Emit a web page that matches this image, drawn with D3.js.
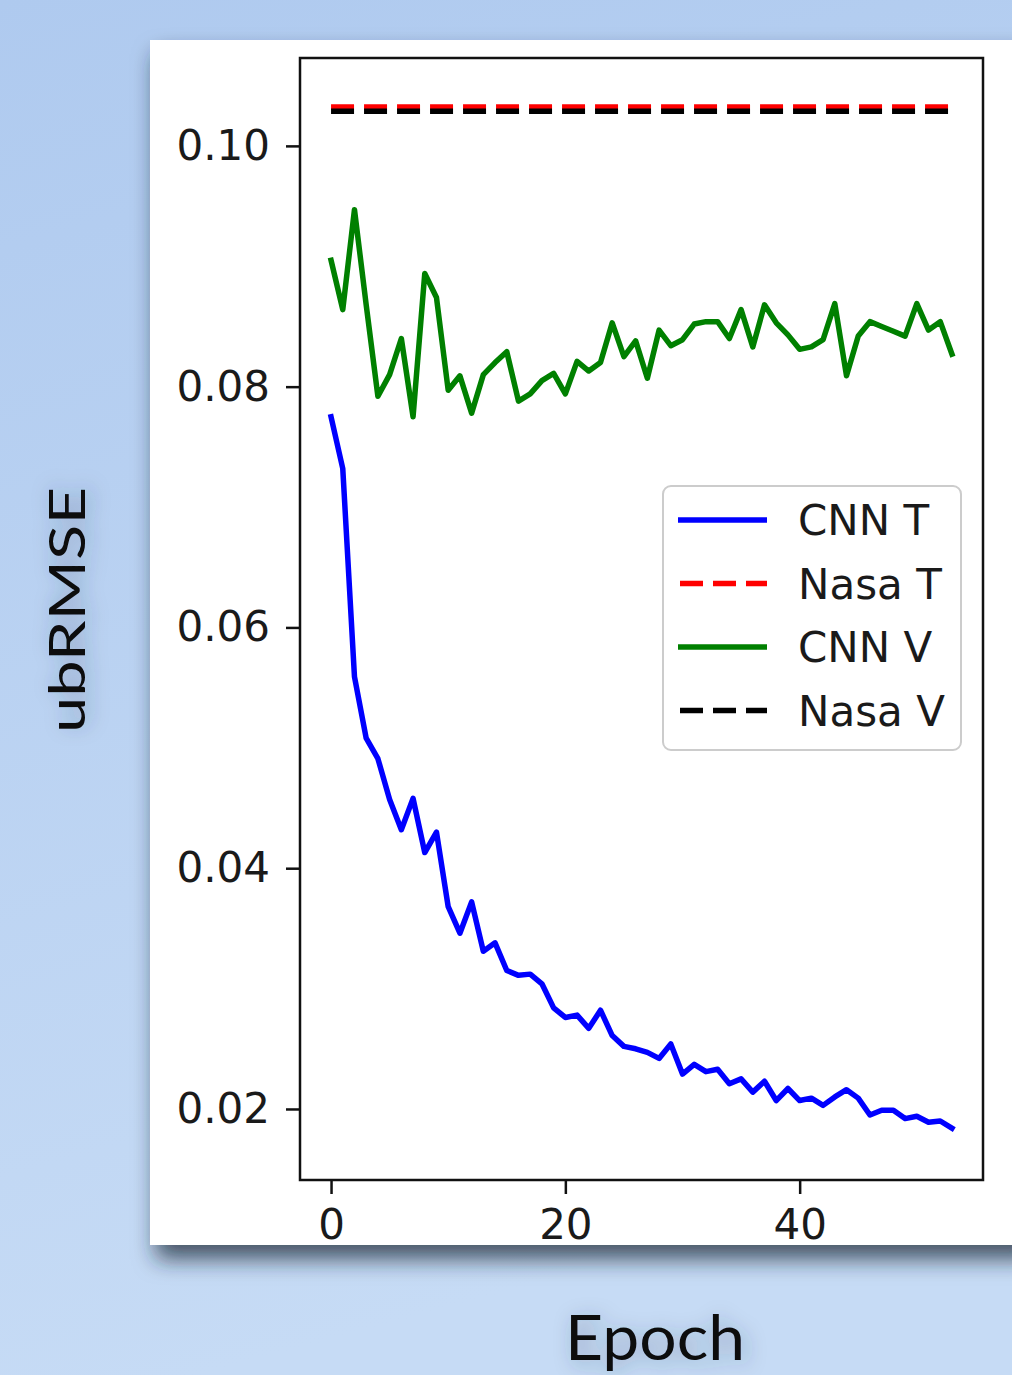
<!DOCTYPE html>
<html>
<head>
<meta charset="utf-8">
<script src="https://cdn.jsdelivr.net/npm/d3@7"></script>
<style>
  html, body { margin: 0; padding: 0; background: #bcd4f2; }
  svg { display: block; }
</style>
</head>
<body>
<div id="chart"></div>
<script>
// ---------------- data ----------------
const epochs = d3.range(0, 54);
const cnnT = [0.0775, 0.0732, 0.0559, 0.0508, 0.0491, 0.0457, 0.0432, 0.0458, 0.0413, 0.0430,
              0.0368, 0.0346, 0.0372, 0.0331, 0.0338, 0.0315, 0.0311, 0.0312, 0.0304, 0.0284,
              0.0276, 0.0278, 0.0267, 0.0282, 0.0261, 0.0252, 0.0250, 0.0247, 0.0242, 0.0254,
              0.0229, 0.0237, 0.0231, 0.0233, 0.0221, 0.0225, 0.0214, 0.0223, 0.0207, 0.0217,
              0.0207, 0.0209, 0.0203, 0.0210, 0.0216, 0.0209, 0.0195, 0.0199, 0.0199, 0.0192,
              0.0194, 0.0189, 0.0190, 0.0184];
const cnnV = [0.0905, 0.0864, 0.0947, 0.0868, 0.0792, 0.0810, 0.0840, 0.0775, 0.0894, 0.0874,
              0.0797, 0.0809, 0.0778, 0.0810, 0.0820, 0.0829, 0.0788, 0.0794, 0.0805, 0.0811,
              0.0794, 0.0821, 0.0813, 0.0820, 0.0853, 0.0825, 0.0838, 0.0807, 0.0847, 0.0834,
              0.0839, 0.0852, 0.0854, 0.0854, 0.0840, 0.0864, 0.0833, 0.0868, 0.0853, 0.0843,
              0.0831, 0.0833, 0.0839, 0.0869, 0.0809, 0.0842, 0.0854, 0.0850, 0.0846, 0.0842,
              0.0869, 0.0847, 0.0854, 0.0827];
const nasaT = 0.10324;
const nasaV = 0.10288;
const yTicks = [0.02, 0.04, 0.06, 0.08, 0.10];
const xTicks = [0, 20, 40];
const legendLabels = ["CNN T", "Nasa T", "CNN V", "Nasa V"];
const xTitle = "Epoch";
const yTitle = "ubRMSE";

// ---------------- layout ----------------
const W = 1012, H = 1375;
const svg = d3.select("#chart").append("svg").attr("width", W).attr("height", H);
const defs = svg.append("defs");

const bg = defs.append("linearGradient").attr("id", "bg").attr("x1", 0).attr("y1", 0).attr("x2", 0.2).attr("y2", 1);
bg.append("stop").attr("offset", "0%").attr("stop-color", "#afcaef");
bg.append("stop").attr("offset", "100%").attr("stop-color", "#c6dbf5");

const sh = defs.append("filter").attr("id", "panelShadow").attr("x", "-10%").attr("y", "-10%").attr("width", "130%").attr("height", "130%");
sh.append("feDropShadow").attr("dx", 6).attr("dy", 14).attr("stdDeviation", 11)
  .attr("flood-color", "#1a2636").attr("flood-opacity", 0.75);

const tsh = defs.append("filter").attr("id", "textShadow").attr("x", "-30%").attr("y", "-30%").attr("width", "160%").attr("height", "160%");
tsh.append("feDropShadow").attr("dx", 4).attr("dy", 4).attr("stdDeviation", 10)
  .attr("flood-color", "#2a3a55").attr("flood-opacity", 0.35);

svg.append("rect").attr("width", W).attr("height", H).attr("fill", "url(#bg)");

// white panel
svg.append("rect").attr("x", 150).attr("y", 40).attr("width", 880).attr("height", 1205)
  .attr("fill", "#ffffff").attr("filter", "url(#panelShadow)");

// plot area
const L = 300, R = 983, T = 58, B = 1180;
const x = d3.scaleLinear().domain([-2.65, 55.65]).range([L, R]);
const y = d3.scaleLinear().domain([0.0141, 0.1073]).range([B, T]);

const tickFont = "'DejaVu Sans', sans-serif";
const LW = 5.5;

// lines
const line = d3.line().x((d, i) => x(epochs[i])).y(d => y(d));
const g = svg.append("g");

g.append("line").attr("x1", x(0)).attr("x2", x(53)).attr("y1", y(nasaT)).attr("y2", y(nasaT))
  .attr("stroke", "#ff0000").attr("stroke-width", LW).attr("stroke-dasharray", "23,10");
g.append("line").attr("x1", x(0)).attr("x2", x(53)).attr("y1", y(nasaV)).attr("y2", y(nasaV))
  .attr("stroke", "#000000").attr("stroke-width", LW).attr("stroke-dasharray", "23,10");
g.append("path").datum(cnnT).attr("d", line).attr("fill", "none")
  .attr("stroke", "#0000ff").attr("stroke-width", LW).attr("stroke-linejoin", "round").attr("stroke-linecap", "square");
g.append("path").datum(cnnV).attr("d", line).attr("fill", "none")
  .attr("stroke", "#008000").attr("stroke-width", LW).attr("stroke-linejoin", "round").attr("stroke-linecap", "square");

// axes
const yAxis = svg.append("g").attr("transform", `translate(${L},0)`)
  .call(d3.axisLeft(y).tickValues(yTicks).tickFormat(d3.format(".2f")).tickSize(14).tickPadding(16));
const xAxis = svg.append("g").attr("transform", `translate(0,${B})`)
  .call(d3.axisBottom(x).tickValues(xTicks).tickFormat(d3.format("d")).tickSize(14).tickPadding(15));
[yAxis, xAxis].forEach(a => {
  a.select(".domain").remove();
  a.selectAll(".tick line").attr("stroke", "#111").attr("stroke-width", 2.5);
  a.selectAll(".tick text").attr("font-family", tickFont).attr("font-size", 42).attr("fill", "#1a1a1a");
});

// frame
svg.append("rect").attr("x", L).attr("y", T).attr("width", R - L).attr("height", B - T)
  .attr("fill", "none").attr("stroke", "#111").attr("stroke-width", 2.5);

// legend
const lg = svg.append("g");
lg.append("rect").attr("x", 663).attr("y", 486).attr("width", 298).attr("height", 264)
  .attr("rx", 8).attr("fill", "#ffffff").attr("fill-opacity", 0.9)
  .attr("stroke", "#cccccc").attr("stroke-width", 2);
const legendStyles = [
  {c: "#0000ff", dash: null},
  {c: "#ff0000", dash: "23,10"},
  {c: "#008000", dash: null},
  {c: "#000000", dash: "23,10"}
];
legendLabels.forEach((lab, i) => {
  const yy = 520 + i * 63.5;
  const ln = lg.append("line").attr("x1", 678).attr("x2", 767).attr("y1", yy).attr("y2", yy)
    .attr("stroke", legendStyles[i].c).attr("stroke-width", LW);
  if (legendStyles[i].dash) ln.attr("stroke-dasharray", legendStyles[i].dash).attr("x1", 680);
  lg.append("text").attr("x", 798).attr("y", yy).attr("dy", "0.36em")
    .attr("font-family", tickFont).attr("font-size", 42).attr("fill", "#1a1a1a").text(lab);
});

// titles
svg.append("text").attr("x", 565).attr("y", 1360)
  .attr("font-family", "Lato, 'Open Sans', sans-serif").attr("font-size", 62).attr("fill", "#111")
  .attr("textLength", 180).attr("lengthAdjust", "spacingAndGlyphs")
  .attr("filter", "url(#textShadow)").text(xTitle);

svg.append("text").attr("transform", "translate(85,733) rotate(-90)")
  .attr("font-family", "Lato, 'Open Sans', sans-serif").attr("font-size", 50).attr("fill", "#111")
  .attr("textLength", 246).attr("lengthAdjust", "spacingAndGlyphs")
  .attr("filter", "url(#textShadow)").text(yTitle);
</script>
</body>
</html>
